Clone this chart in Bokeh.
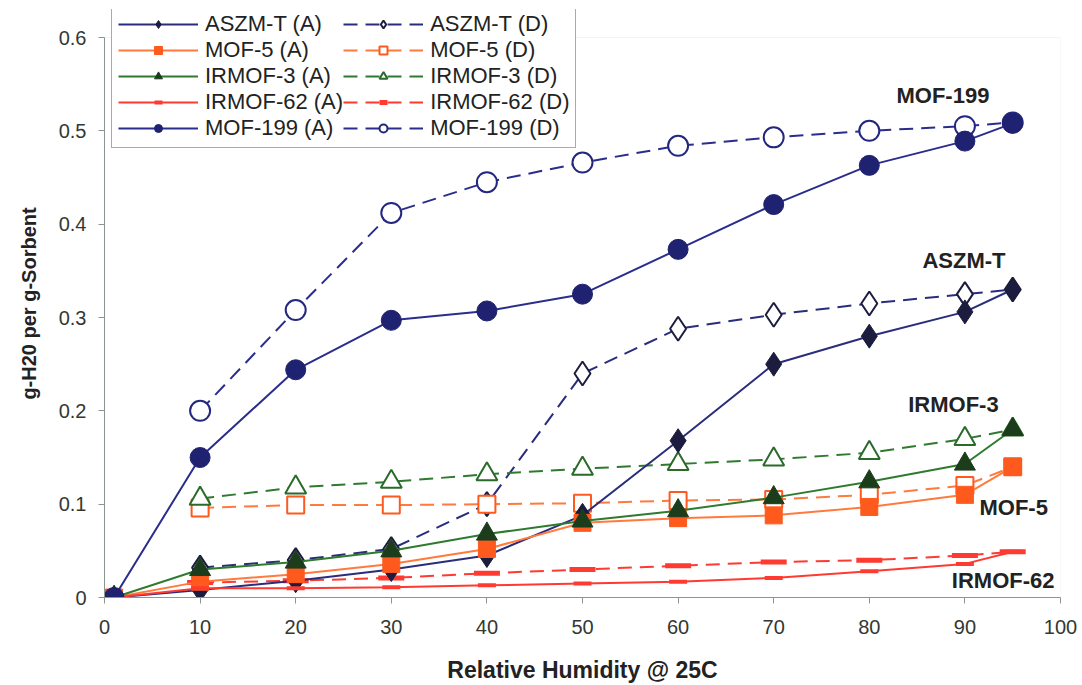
import numpy as np
from bokeh.plotting import figure
from bokeh.models import Legend, LegendItem, Label, FixedTicker, Range1d, BoxAnnotation
from bokeh.embed import file_html
from bokeh.resources import INLINE

# ---- data ----
rh_a = [1, 10, 20, 30, 40, 50, 60, 70, 80, 90, 95]
rh_d = [10, 20, 30, 40, 50, 60, 70, 80, 90, 95]

aszm_a = [0, 0.008, 0.018, 0.030, 0.045, 0.088, 0.168, 0.250, 0.280, 0.306, 0.330]
aszm_d = [0.032, 0.040, 0.052, 0.100, 0.240, 0.288, 0.303, 0.315, 0.325, 0.330]
mof5_a = [0, 0.017, 0.025, 0.036, 0.052, 0.080, 0.085, 0.088, 0.097, 0.110, 0.140]
mof5_d = [0.096, 0.099, 0.099, 0.100, 0.101, 0.104, 0.105, 0.110, 0.120, 0.140]
irmof3_a = [0, 0.030, 0.038, 0.050, 0.068, 0.082, 0.093, 0.107, 0.124, 0.143, 0.180]
irmof3_d = [0.106, 0.118, 0.124, 0.132, 0.138, 0.143, 0.148, 0.155, 0.170, 0.180]
irmof62_a = [0, 0.010, 0.010, 0.011, 0.013, 0.015, 0.017, 0.021, 0.028, 0.036, 0.049]
irmof62_d = [0.016, 0.018, 0.021, 0.026, 0.030, 0.034, 0.038, 0.040, 0.045, 0.049]
mof199_a = [0, 0.150, 0.244, 0.297, 0.307, 0.325, 0.373, 0.421, 0.463, 0.489, 0.508]
mof199_d = [0.200, 0.308, 0.412, 0.445, 0.466, 0.484, 0.493, 0.500, 0.505, 0.509]

series_names = ["ASZM-T", "MOF-5", "IRMOF-3", "IRMOF-62", "MOF-199"]
x_ticks = [0, 10, 20, 30, 40, 50, 60, 70, 80, 90, 100]
y_ticks = [0, 0.1, 0.2, 0.3, 0.4, 0.5, 0.6]
x_min, x_max = 0, 100
y_min, y_max = 0, 0.6

# ---- styles ----
FONT = "Liberation Sans"
styles = {
    "ASZM-T":   dict(line="#2a2d7c", marker="diamond", size=24, fill="#1b1c3e", mline="#1b1c3e", dline="#1b1c3e", lw_m=1),
    "MOF-5":    dict(line="#ff7a3c", marker="square", size=17, fill="#ff5a1e", mline="#ff5a1e", dline="#ff5a1e", lw_m=1),
    "IRMOF-3":  dict(line="#2f7a2f", marker="triangle", size=21, fill="#1c3d1c", mline="#1c3d1c", dline="#2a6a2a", lw_m=1),
    "IRMOF-62": dict(line="#ff3a30", marker="dash", size=18, fill="#ff3a30", mline="#ff3a30", dline="#ff3a30", lw_m=4),
    "MOF-199":  dict(line="#2a2d8c", marker="circle", size=20, fill="#1f2270", mline="#1f2270", dline="#24277e", lw_m=1),
}

frame_h_data = 560        # pixel height of 0..0.6
extra_top = 28            # room above 0.6 for the legend box
p = figure(width=1082, height=685, output_backend="svg", toolbar_location=None,
           x_range=Range1d(x_min, x_max),
           y_range=Range1d(y_min, y_max * (frame_h_data + extra_top) / frame_h_data),
           min_border_left=104, min_border_right=22, min_border_top=9, min_border_bottom=88,
           frame_width=956, frame_height=frame_h_data + extra_top)
p.background_fill_color = "white"
p.outline_line_color = None
p.grid.visible = False

# plot-area border (0..100 x 0..0.6)
p.add_layout(BoxAnnotation(left=x_min, right=x_max, bottom=y_min, top=y_max,
                           fill_alpha=0, line_color="#cfd9d1", line_width=1, level="underlay"))

a_vals = [aszm_a, mof5_a, irmof3_a, irmof62_a, mof199_a]
d_vals = [aszm_d, mof5_d, irmof3_d, irmof62_d, mof199_d]

items_a = []
items_d = []
for name, yd in zip(series_names, d_vals):
    st = styles[name]
    ld = p.line(rh_d, yd, line_color=st["line"], line_width=2, line_dash="14 8")
    if name == "IRMOF-62":
        md = p.scatter(rh_d, yd, marker="dash", size=st["size"] + 8,
                       line_color=st["fill"], line_width=5)
    else:
        md = p.scatter(rh_d, yd, marker=st["marker"], size=st["size"],
                       fill_color="white", line_color=st["dline"], line_width=2)
    items_d.append(LegendItem(label=f"{name} (D)", renderers=[ld, md]))
for name, ya in zip(series_names, a_vals):
    st = styles[name]
    la = p.line(rh_a, ya, line_color=st["line"], line_width=2)
    ma = p.scatter(rh_a, ya, marker=st["marker"], size=st["size"],
                   fill_color=st["fill"], line_color=st["mline"], line_width=st["lw_m"])
    items_a.append(LegendItem(label=f"{name} (A)", renderers=[la, ma]))

legend = Legend(items=items_a + items_d, ncols=2, nrows=5, orientation="vertical",
                location=(7, 449), glyph_width=80, glyph_height=20, label_standoff=7,
                label_text_font=FONT, label_text_font_size="22px", label_text_color="#222222",
                spacing=0, padding=6, border_line_color="#555555", border_line_width=1,
                background_fill_alpha=1, background_fill_color="white", label_height=20)
p.add_layout(legend, "center")

# axes
p.xaxis.ticker = FixedTicker(ticks=x_ticks)
p.yaxis.ticker = FixedTicker(ticks=y_ticks)
p.yaxis.bounds = (y_min, y_max)
p.yaxis.major_label_overrides = {0: "0"}
for ax in (p.xaxis, p.yaxis):
    ax.axis_line_color = "#8a9690"
    ax.major_tick_line_color = "#8a9690"
    ax.minor_tick_line_color = None
    ax.major_tick_out = 6
    ax.major_tick_in = 0
    ax.major_label_text_font = FONT
    ax.major_label_text_font_size = "20px"
    ax.major_label_text_color = "#333833"
    ax.axis_label_text_font = FONT
    ax.axis_label_text_font_style = "bold"
    ax.axis_label_text_color = "#222222"
p.xaxis.axis_label = "Relative Humidity @ 25C"
p.xaxis.axis_label_text_font_size = "23px"
p.xaxis.major_label_standoff = 16
p.xaxis.axis_label_standoff = 20
p.yaxis.axis_label = "g-H20 per g-Sorbent"
p.yaxis.axis_label_text_font_size = "20px"
p.yaxis.major_label_standoff = 12
p.yaxis.axis_label_standoff = 16

# series labels
label_text = ["MOF-199", "ASZM-T", "IRMOF-3", "MOF-5", "IRMOF-62"]
label_x = [87.7, 89.9, 88.8, 95.1, 94.0]
label_y = [0.538, 0.361, 0.207, 0.0965, 0.018]
for t, lx, ly in zip(label_text, label_x, label_y):
    p.add_layout(Label(x=lx, y=ly, text=t, text_align="center", text_baseline="middle",
                       text_font=FONT, text_font_style="bold", text_font_size="22px",
                       text_color="#222222"))

open("out.html", "w").write(file_html(p, INLINE))
